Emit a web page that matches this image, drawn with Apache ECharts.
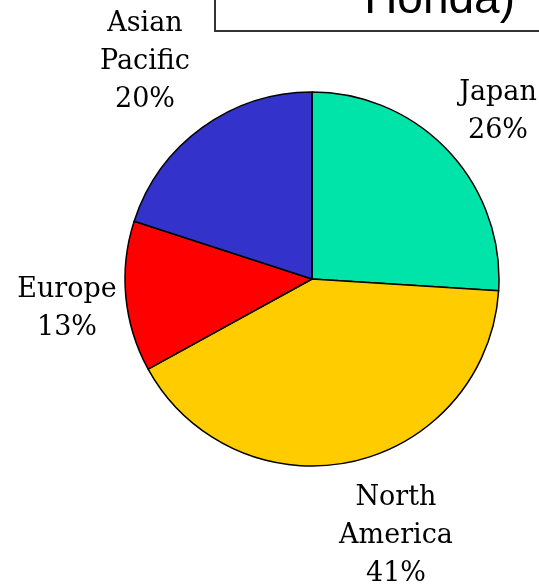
<!DOCTYPE html>
<html>
<head>
<meta charset="utf-8">
<script src="https://cdn.jsdelivr.net/npm/echarts@6/dist/echarts.min.js"></script>
<style>
html, body { margin: 0; padding: 0; background: #fff; }
#chart { width: 539px; height: 585px; }
</style>
</head>
<body>
<div id="chart"></div>
<script>
// region shares (%)
var regions = ['Japan', 'North\nAmerica', 'Europe', 'Asian\nPacific'];
var shares = [26, 41, 13, 20];
var colors = ['#00E3A9', '#FFCC00', '#FF0000', '#3333CC'];

// where each label sits (centre of text block)
var labelPos = [[498, 112], [396, 536], [67, 309], [145, 62]];

var chart = echarts.init(document.getElementById('chart'));

var pieData = [];
for (var i = 0; i < regions.length; i++) {
	pieData.push({ name: regions[i], value: shares[i], itemStyle: { color: colors[i] } });
}

var option = {
	animation: false,
	graphic: [
		{
			type: 'rect',
			shape: { x: 215, y: -10, width: 340, height: 41 },
			style: { fill: '#fff', stroke: '#333', lineWidth: 2 }
		},
		{
			type: 'text',
			style: {
				x: 515, y: -23,
				text: 'Honda)',
				align: 'right',
				verticalAlign: 'top',
				font: '46px "Liberation Sans", Arial, sans-serif',
				fill: '#000'
			}
		}
	],
	series: [
		{
			type: 'pie',
			center: [312, 279],
			radius: 187,
			startAngle: 90,
			clockwise: true,
			avoidLabelOverlap: false,
			itemStyle: { borderColor: '#000', borderWidth: 1.5 },
			label: {
				show: true,
				position: 'outside',
				formatter: function (p) { return p.name + '\n' + p.value + '%'; },
				fontFamily: '"DejaVu Serif", serif',
				fontSize: 27,
				lineHeight: 38,
				color: '#000',
				align: 'center'
			},
			labelLine: { show: false },
			labelLayout: function (p) {
				var pos = labelPos[p.dataIndex];
				return { x: pos[0], y: pos[1], align: 'center', verticalAlign: 'middle' };
			},
			emphasis: { disabled: true },
			data: pieData
		}
	]
};

chart.setOption(option);
</script>
</body>
</html>
